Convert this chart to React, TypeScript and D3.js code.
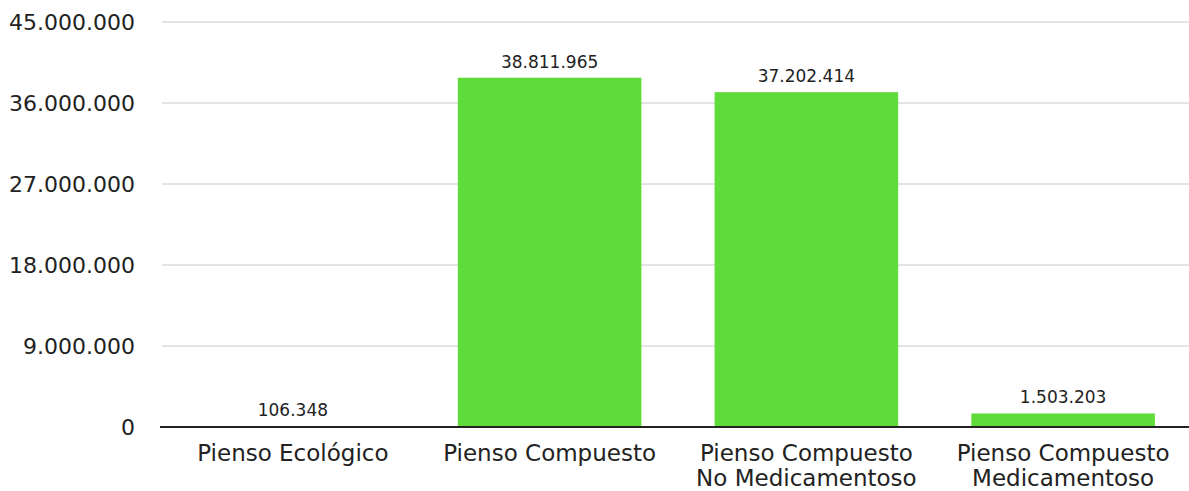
import React from "react";
import * as d3 from "d3";

const categories: string[][] = [
  ["Pienso Ecológico"],
  ["Pienso Compuesto"],
  ["Pienso Compuesto", "No Medicamentoso"],
  ["Pienso Compuesto", "Medicamentoso"],
];
const values: number[] = [106348, 38811965, 37202414, 1503203];
const yTicks: number[] = [0, 9000000, 18000000, 27000000, 36000000, 45000000];

const W = 1189;
const H = 491;
const FONT = "'DejaVu Sans', sans-serif";
const fmt = (v: number) => d3.format(",")(v).replace(/,/g, ".");

export default function App() {
  const x = d3
    .scaleBand<number>()
    .domain(values.map((_, i) => i))
    .range([164.5, 1191.5])
    .paddingInner(0.285)
    .paddingOuter(0.1425);
  const y = d3.scaleLinear().domain([0, 45000000]).range([427, 22]);

  return (
    <svg
      width={W}
      height={H}
      style={{ position: "absolute", left: 0, top: 0, display: "block" }}
      fontFamily={FONT}
    >
      <rect width={W} height={H} fill="#ffffff" />
      {yTicks.map((t) => (
        <g key={t}>
          {t !== 0 && (
            <line x1={162} x2={W} y1={y(t)} y2={y(t)} stroke="#c8c8c8" strokeWidth={1} />
          )}
          <text
            x={135}
            y={y(t)}
            dy="0.36em"
            textAnchor="end"
            fontSize={22}
            fill="#222"
          >
            {t === 0 ? "0" : fmt(t)}
          </text>
        </g>
      ))}
      {values.map((v, i) => (
        <g key={i}>
          <rect
            x={x(i)!}
            y={y(v)}
            width={x.bandwidth()}
            height={y(0) - y(v)}
            fill="#5fdb3a"
          />
          <text
            x={x(i)! + x.bandwidth() / 2}
            y={y(v) - 10}
            textAnchor="middle"
            fontSize={17}
            fill="#222"
          >
            {fmt(v)}
          </text>
          {categories[i].map((line, j) => (
            <text
              key={j}
              x={x(i)! + x.bandwidth() / 2}
              y={461 + j * 25}
              textAnchor="middle"
              fontSize={23}
              fill="#222"
            >
              {line}
            </text>
          ))}
        </g>
      ))}
      <line x1={160} x2={W} y1={y(0)} y2={y(0)} stroke="#222" strokeWidth={2} />
    </svg>
  );
}
